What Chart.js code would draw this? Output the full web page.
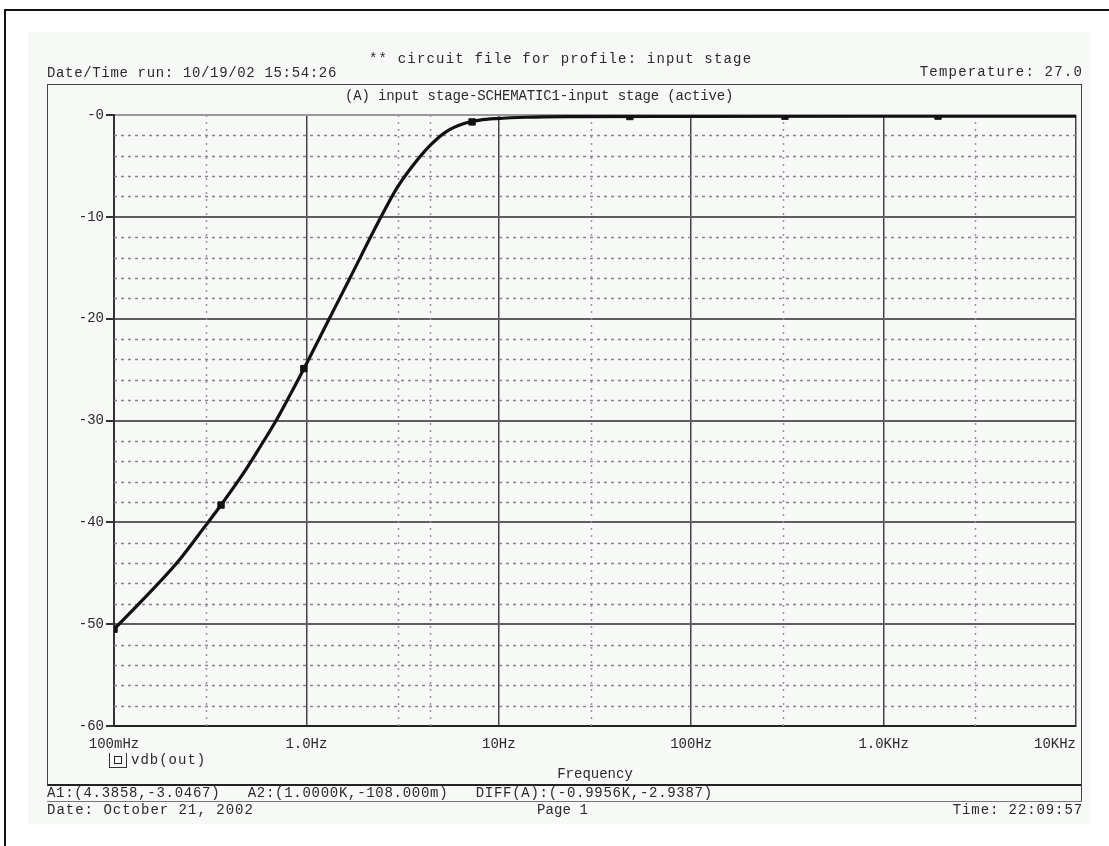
<!DOCTYPE html>
<html>
<head>
<meta charset="utf-8">
<title>input stage - vdb(out)</title>
<script src="https://cdn.jsdelivr.net/npm/chart.js@4.4.1/dist/chart.umd.min.js"></script>
<style>
  body { margin: 0; background: #fff; }
  #page { position: relative; width: 1109px; height: 846px; overflow: hidden; background: #fff;
          font-family: "Liberation Mono", "DejaVu Sans Mono", monospace; color: #2a2a2a; }
  #frame { position: absolute; left: 4px; top: 9px; right: -10px; bottom: -10px;
           border-left: 2px solid #111; border-top: 2px solid #111; }
  #sheet { position: absolute; left: 28px; top: 32px; width: 1062px; height: 792px; background: #f7f9f7; }
  #box { position: absolute; left: 47px; top: 84px; width: 1033px; height: 699px;
         border: 1px solid #444; border-bottom: 2px solid #222; }
  #rbar { position: absolute; left: 1081px; top: 785px; width: 1px; height: 17px; background: #444; }
  #cline { position: absolute; left: 47px; top: 801px; width: 1035px; height: 1px; background: #777; }
  canvas { position: absolute; left: 0; top: 0; }
  .t { position: absolute; font-size: 14px; line-height: 14px; white-space: pre; letter-spacing: 1px; }
  #leg { position: absolute; left: 109px; top: 753px; width: 16px; height: 14px;
         border-left: 1px solid #333; border-bottom: 1px solid #333; border-right: 1px solid #333; }
  #leg i { position: absolute; left: 4px; top: 3px; width: 6px; height: 6px; border: 1px solid #222; }
</style>
</head>
<body>
<div id="page">
  <div id="frame"></div>
  <div id="sheet"></div>
  <div id="box"></div>
  <div id="rbar"></div>
  <div id="cline"></div>
  <canvas id="c" width="1109" height="846"></canvas>

  <div class="t" style="left:369px;top:52px;letter-spacing:1.18px">** circuit file for profile: input stage</div>
  <div class="t" style="left:47px;top:66px;letter-spacing:0.66px">Date/Time run: 10/19/02 15:54:26</div>
  <div class="t" style="right:26px;top:65px;letter-spacing:1.2px">Temperature: 27.0</div>
  <div class="t" style="left:345px;top:89px;letter-spacing:-0.14px">(A) input stage-SCHEMATIC1-input stage (active)</div>

  <div id="leg"><i></i></div>
  <div class="t" style="left:131px;top:753px;letter-spacing:1px">vdb(out)</div>

  <div class="t" style="left:47px;top:786px;letter-spacing:0.72px">A1:(4.3858,-3.0467)   A2:(1.0000K,-108.000m)   DIFF(A):(-0.9956K,-2.9387)</div>
  <div class="t" style="left:47px;top:803px;letter-spacing:1px">Date: October 21, 2002</div>
  <div class="t" style="left:537px;top:803px;letter-spacing:0.1px">Page 1</div>
  <div class="t" style="right:26px;top:803px;letter-spacing:0.9px">Time: 22:09:57</div>
</div>

<script>
// valori: frequenza (Hz) e guadagno vdb(out) (dB)
const freqHz = [0.1, 0.148, 0.212, 0.297, 0.36, 0.47, 0.574, 0.701, 0.822, 0.984,
                1.275, 1.685, 2.413, 2.946, 3.594, 4.386, 5.36, 6.54, 7.98, 9.75,
                14, 25, 100, 1000, 10000];
const gainDb = [-50.5, -47.2, -44.0, -40.4, -38.3, -35.2, -32.6, -29.9, -27.5, -24.7,
                -20.5, -16.0, -10.2, -7.2, -4.9, -3.0, -1.6, -0.85, -0.5, -0.35,
                -0.22, -0.16, -0.13, -0.11, -0.11];

// marcatori quadrati sulla traccia
const markerHz = [0.1, 0.36, 0.97, 7.26, 48, 307, 1918];
const markerDb = [-50.5, -38.3, -24.9, -0.68, -0.15, -0.12, -0.11];

// asse x
const xTickHz = [0.1, 1, 10, 100, 1000, 10000];
const xTickLabels = ['100mHz', '1.0Hz', '10Hz', '100Hz', '1.0KHz', '10KHz'];
// righe verticali tratteggiate (griglia minore + cursore A1)
const minorHz = [0.3, 3, 4.386, 30, 300, 3000];

// asse y
const yMin = -60, yMax = 0, yStep = 10, yMinorStep = 2;

const minorGrid = {
  id: 'minorGrid',
  beforeDatasetsDraw(chart) {
    const { ctx, chartArea: a, scales: { x, y } } = chart;
    ctx.save();
    ctx.lineWidth = 1.5;
    ctx.strokeStyle = '#858585';
    ctx.setLineDash([3, 4]);
    for (let v = yMin + yMinorStep; v < yMax; v += yMinorStep) {
      if (v % yStep === 0) continue;
      const py = Math.round(y.getPixelForValue(v)) + 0.5;
      ctx.beginPath(); ctx.moveTo(a.left, py); ctx.lineTo(a.right, py); ctx.stroke();
    }
    ctx.strokeStyle = '#959595';
    ctx.setLineDash([2, 5]);
    minorHz.forEach(f => {
      const px = Math.round(x.getPixelForValue(f)) + 0.5;
      ctx.beginPath(); ctx.moveTo(px, a.top); ctx.lineTo(px, a.bottom); ctx.stroke();
    });
    ctx.restore();
  }
};

Chart.defaults.font.family = '"Liberation Mono", "DejaVu Sans Mono", monospace';
Chart.defaults.color = '#2a2a2a';

new Chart(document.getElementById('c'), {
  type: 'line',
  data: {
    datasets: [{
      label: 'vdb(out)',
      data: freqHz.map((f, i) => ({ x: f, y: gainDb[i] })),
      borderColor: '#111',
      borderWidth: 3.2,
      pointRadius: 0,
      cubicInterpolationMode: 'monotone',
      fill: false
    }, {
      label: 'marker',
      data: markerHz.map((f, i) => ({ x: f, y: markerDb[i] })),
      showLine: false,
      pointStyle: 'rect',
      pointRadius: 4.5,
      backgroundColor: '#111',
      borderColor: '#111',
      borderWidth: 1
    }]
  },
  options: {
    responsive: false,
    animation: false,
    devicePixelRatio: 1,
    layout: { padding: { left: 0, right: 33, top: 115, bottom: 60 } },
    plugins: { legend: { display: false }, tooltip: { enabled: false } },
    scales: {
      x: {
        type: 'logarithmic',
        min: 0.1,
        max: 10000,
        afterBuildTicks: s => { s.ticks = xTickHz.map(v => ({ value: v })); },
        afterFit: s => { s.height = 60; s.paddingLeft = 0; s.paddingRight = 0; },
        ticks: {
          autoSkip: false,
          maxRotation: 0,
          padding: 10,
          font: { size: 14 },
          color: '#2a2a2a',
          callback: (v, i, ticks) => i === ticks.length - 1 ? xTickLabels[i] + '     ' : xTickLabels[i]
        },
        grid: { color: '#444', lineWidth: 1.5, drawTicks: false },
        border: { color: '#222', width: 2 },
        title: { display: true, text: 'Frequency', font: { size: 14 }, color: '#2a2a2a', padding: { top: 0, bottom: 3 } }
      },
      y: {
        min: yMin,
        max: yMax,
        afterFit: s => { s.width = 114; },
        ticks: {
          stepSize: yStep,
          padding: 2,
          font: { size: 14 },
          color: '#2a2a2a',
          callback: v => '-' + Math.abs(v)
        },
        grid: {
          color: c => c.tick && c.tick.value === yMax ? '#9a9a9a' : (c.tick && c.tick.value === yMin ? '#222' : '#5e5e5e'),
          lineWidth: 2,
          tickLength: 8,
          tickColor: '#333'
        },
        border: { color: '#333', width: 2 }
      }
    }
  },
  plugins: [minorGrid]
});
</script>
</body>
</html>
